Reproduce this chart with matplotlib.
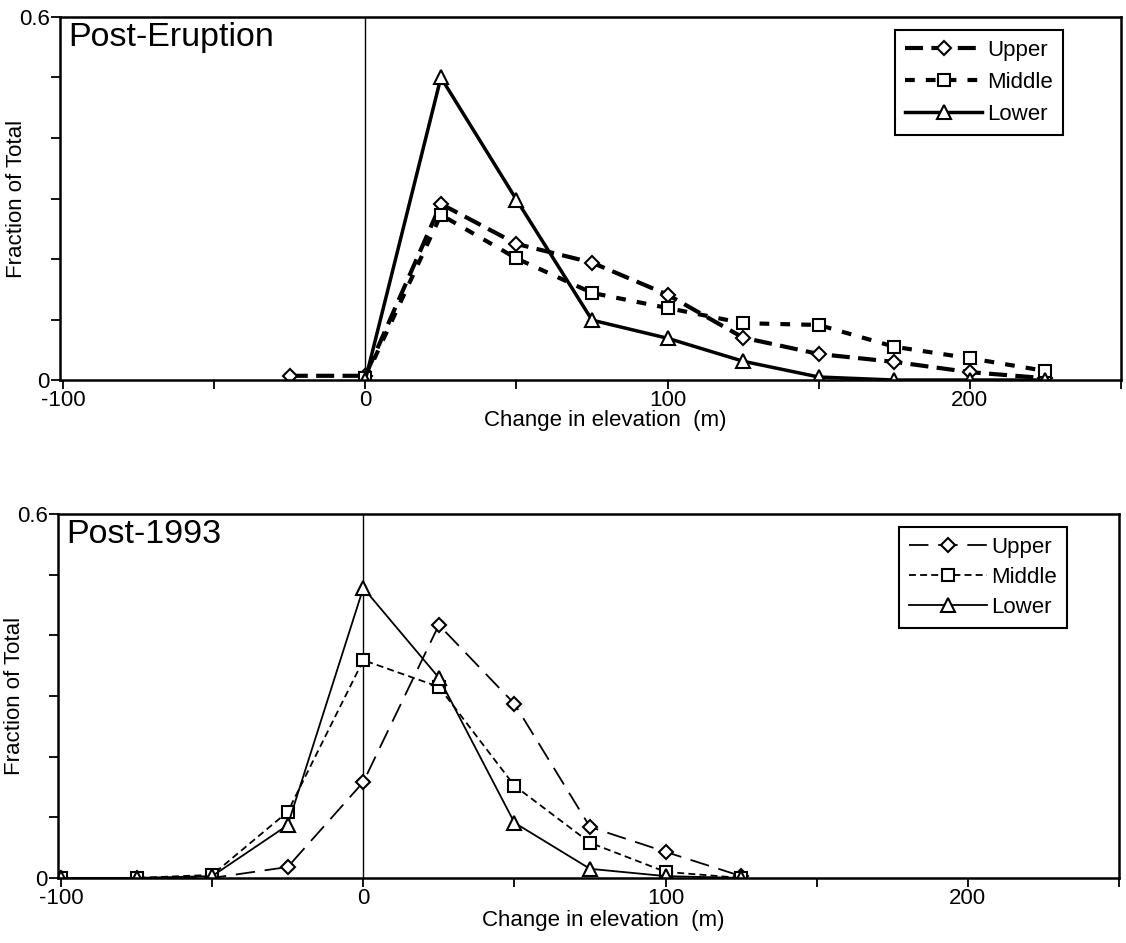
import matplotlib.pyplot as plt
import numpy as np

plt.rcParams['font.family'] = ['Liberation Sans', 'DejaVu Sans']
plt.rcParams['lines.scale_dashes'] = False

# elevation bins (m)
x_top = [-25, 0, 25, 50, 75, 100, 125, 150, 175, 200, 225]
x_bot = [-100, -75, -50, -25, 0, 25, 50, 75, 100, 125]

# post-eruption fractions
top_upper = [0.007, 0.007, 0.291, 0.225, 0.194, 0.141, 0.070, 0.043, 0.030, 0.013, 0.003]
top_middle = [np.nan, 0.003, 0.273, 0.201, 0.144, 0.119, 0.094, 0.091, 0.055, 0.036, 0.015]
top_lower = [np.nan, 0.0, 0.500, 0.298, 0.099, 0.069, 0.031, 0.005, 0.0, 0.0, 0.0]

# post-1993 fractions
bot_upper = [0.0, 0.0, 0.0, 0.018, 0.158, 0.417, 0.287, 0.084, 0.043, 0.003]
bot_middle = [0.0, 0.0, 0.005, 0.109, 0.359, 0.315, 0.152, 0.058, 0.010, 0.0]
bot_lower = [0.0, 0.0, 0.003, 0.087, 0.478, 0.330, 0.091, 0.015, 0.003, 0.0]

x_ticks = [-100, -50, 0, 50, 100, 150, 200, 250]
x_ticklabels = ['-100', '', '0', '', '100', '', '200', '']

fig = plt.figure(figsize=(11.26, 9.43), dpi=100)
ax1 = fig.add_axes([0.0533, 0.597, 0.9423, 0.385])
ax2 = fig.add_axes([0.0515, 0.069, 0.9423, 0.386])


def style_axes(ax, title, xlab_y):
    ax.set_xlim(-101, 250)
    ax.set_ylim(0, 0.6)
    ax.set_xticks(x_ticks)
    ax.set_xticklabels(x_ticklabels)
    ax.set_yticks(np.arange(0, 0.61, 0.1))
    ax.set_yticklabels(['0', '', '', '', '', '', '0.6'])
    ax.tick_params(direction='out', length=6.5, width=1.3, labelsize=16, pad=1)
    for s in ax.spines.values():
        s.set_linewidth(1.8)
    ax.axvline(0, color='k', lw=1.0, zorder=1)
    ax.set_xlabel('Change in elevation  (m)', fontsize=16, va='top')
    ax.set_ylabel('Fraction of Total', fontsize=16)
    ax.xaxis.set_label_coords(0.514, xlab_y)
    ax.yaxis.set_label_coords(-0.031, 0.5)
    ax.text(0.008, 0.985, title, transform=ax.transAxes, fontsize=24.5,
            va='top', ha='left')


style_axes(ax1, 'Post-Eruption', -0.083)
style_axes(ax2, 'Post-1993', -0.088)

mk = dict(color='k', markerfacecolor='white', markeredgecolor='k', markeredgewidth=1.5)

# thick lines for the upper panel
ax1.plot(x_top, top_upper, lw=3, dashes=(13, 6), marker='D', ms=7, label='Upper', **mk)
ax1.plot(x_top, top_middle, lw=3, dashes=(7, 8), marker='s', ms=9, label='Middle', **mk)
ax1.plot(x_top, top_lower, lw=2.5, ls='-', marker='^', ms=10, label='Lower', **mk)

# thin lines for the lower panel
ax2.plot(x_bot, bot_upper, lw=1.3, dashes=(14, 7), marker='D', ms=7, label='Upper', **mk)
ax2.plot(x_bot, bot_middle, lw=1.3, dashes=(5, 3), marker='s', ms=9, label='Middle', **mk)
ax2.plot(x_bot, bot_lower, lw=1.3, ls='-', marker='^', ms=10, label='Lower', **mk)

for ax, anchor, spacing in ((ax1, (0.945, 0.964), 0.5), (ax2, (0.951, 0.964), 0.4)):
    leg = ax.legend(loc='upper right', bbox_to_anchor=anchor, borderaxespad=0,
                    fontsize=16, handlelength=3.5, handletextpad=0.2,
                    labelspacing=spacing, borderpad=0.45, fancybox=False,
                    framealpha=1, edgecolor='k')
    leg.get_frame().set_linewidth(1.5)

fig.savefig('out.png', dpi=100)
